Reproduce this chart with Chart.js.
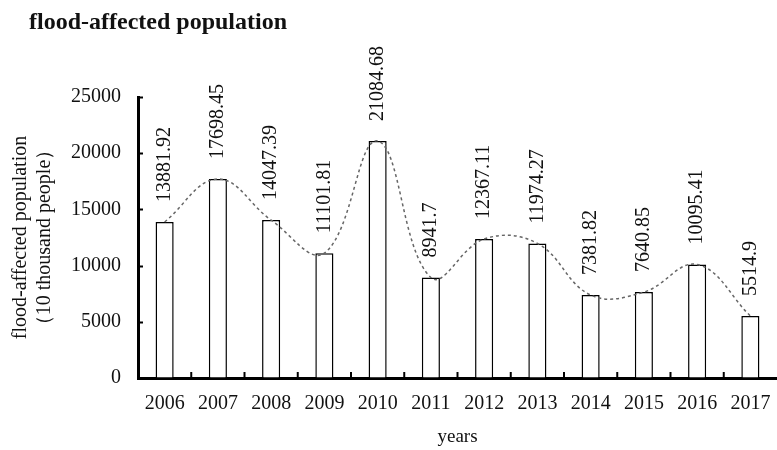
<!DOCTYPE html>
<html>
<head>
<meta charset="utf-8">
<script src="https://cdn.jsdelivr.net/npm/chart.js@4/dist/chart.umd.min.js"></script>
<style>
  body { margin: 0; background: #fff; }
  canvas { display: block; }
</style>
</head>
<body>
<canvas id="grafico" width="777" height="450"></canvas>
<script>
var years = ['2006', '2007', '2008', '2009', '2010', '2011', '2012', '2013', '2014', '2015', '2016', '2017'];
var population = [13881.92, 17698.45, 14047.39, 11101.81, 21084.68, 8941.7, 12367.11, 11974.27, 7381.82, 7640.85, 10095.41, 5514.9];
var yTicks = [0, 5000, 10000, 15000, 20000, 25000];

var serif = "'Liberation Serif', 'Times New Roman', serif";
Chart.defaults.font.family = serif;
Chart.defaults.color = '#111';

// title, value labels and inward tick marks
var extras = {
  id: 'extras',
  afterDraw: function (chart) {
    var ctx = chart.ctx;
    var x = chart.scales.x, y = chart.scales.y;
    ctx.save();

    ctx.fillStyle = '#111';
    ctx.font = 'bold 24px ' + serif;
    ctx.textAlign = 'left';
    ctx.textBaseline = 'alphabetic';
    ctx.fillText('flood-affected population', 29, 29);

    ctx.strokeStyle = '#000';
    ctx.lineWidth = 2;
    yTicks.forEach(function (v) {
      var py = Math.round(y.getPixelForValue(v)) + 0.5;
      ctx.beginPath();
      ctx.moveTo(x.left, py);
      ctx.lineTo(x.left + 5, py);
      ctx.stroke();
    });
    for (var i = 1; i < years.length; i++) {
      var px = (x.getPixelForValue(i - 1) + x.getPixelForValue(i)) / 2;
      ctx.beginPath();
      ctx.moveTo(px, y.bottom);
      ctx.lineTo(px, y.bottom - 6);
      ctx.stroke();
    }

    ctx.font = '20px ' + serif;
    ctx.textAlign = 'left';
    ctx.textBaseline = 'middle';
    population.forEach(function (v, i) {
      ctx.save();
      ctx.translate(x.getPixelForValue(i), y.getPixelForValue(v) - 20);
      ctx.rotate(-Math.PI / 2);
      ctx.fillText(String(v), 0, 0);
      ctx.restore();
    });
    ctx.restore();
  }
};

var ctx = document.getElementById('grafico').getContext('2d');
var chart = new Chart(ctx, {
  type: 'bar',
  data: {
    labels: years,
    datasets: [{
      type: 'line',
      data: population,
      borderColor: '#666',
      borderWidth: 1.5,
      borderDash: [3, 3],
      tension: 0.4,
      pointRadius: 0,
      fill: false,
      order: 0
    }, {
      data: population,
      backgroundColor: '#fff',
      borderColor: '#000',
      borderWidth: 1.5,
      barPercentage: 0.34,
      categoryPercentage: 1,
      order: 1
    }]
  },
  options: {
    responsive: false,
    animation: false,
    layout: { padding: { left: 0, right: 0, top: 97, bottom: 0 } },
    plugins: { legend: { display: false }, tooltip: { enabled: false } },
    scales: {
      x: {
        grid: { display: true, drawOnChartArea: false, drawTicks: false },
        border: { display: true, color: '#000', width: 3 },
        ticks: { padding: 14, font: { size: 20 }, maxRotation: 0 },
        title: { display: true, text: 'years', font: { size: 19 }, padding: { top: 0, bottom: 2 } },
        afterFit: function (s) {
          s.height = 72;
          s.paddingLeft = 0;
          s.paddingRight = 0;
        }
      },
      y: {
        min: 0,
        max: 25000,
        ticks: {
          stepSize: 5000,
          padding: 17,
          font: { size: 20 },
          callback: function (v) { return String(v); }
        },
        grid: { display: true, drawOnChartArea: false, drawTicks: false },
        border: { display: true, color: '#000', width: 3 },
        title: {
          display: true,
          text: ['flood-affected population', '（10 thousand people）'],
          font: { size: 20 },
          padding: { top: 9, bottom: 0 }
        },
        afterFit: function (s) { s.width = 138; }
      }
    }
  },
  plugins: [extras]
});
</script>
</body>
</html>
